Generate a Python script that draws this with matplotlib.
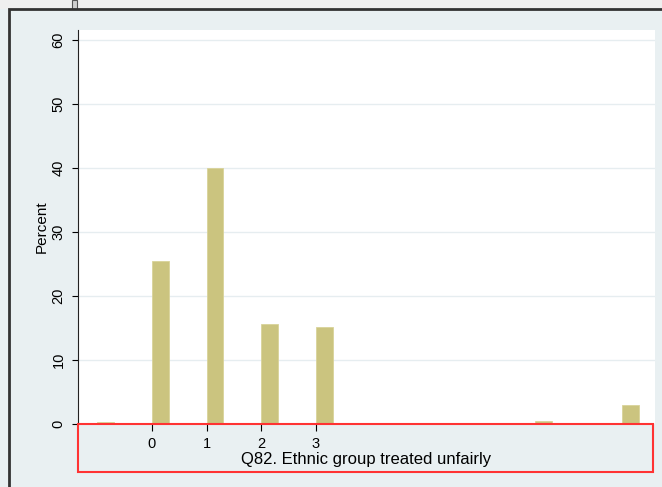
import matplotlib
matplotlib.use("Agg")
import matplotlib.pyplot as plt
from matplotlib.patches import Rectangle

# данные: значения переменной и проценты
values = [-1, 0, 1, 2, 3, 7, 8.6]
percents = [0.3, 25.5, 40.0, 15.6, 15.1, 0.5, 3.0]
x_ticks = [0, 1, 2, 3]
y_ticks = [0, 10, 20, 30, 40, 50, 60]

W, H = 662, 487
plt.rcParams['font.family'] = ['Liberation Sans', 'DejaVu Sans']

fig = plt.figure(figsize=(W / 100, H / 100), dpi=100)
fig.patch.set_facecolor('#e9f0f2')

def px(x0, y0, w, h):  # прямоугольник в пикселях (сверху вниз)
    return (x0 / W, 1 - (y0 + h) / H), w / W, h / H

# серая полоса сверху и рамка окна
xy, w, h = px(0, 0, W, 9)
fig.add_artist(Rectangle(xy, w, h, transform=fig.transFigure, color='#efefef', lw=0))
xy, w, h = px(72, 0, 5, 9)
fig.add_artist(Rectangle(xy, w, h, transform=fig.transFigure, facecolor='#d0d0d0', edgecolor='#555555', lw=0.8))
xy, w, h = px(9, 9, W, H)
fig.add_artist(Rectangle(xy, w, h, transform=fig.transFigure, fill=False, edgecolor='#333333', lw=2))

ax = fig.add_axes([78 / W, (H - 424) / H, 577 / W, 394 / H])
ax.set_facecolor('white')
ax.bar(values, percents, width=0.31, align='edge', color='#cbc47f', edgecolor='#d9d39a', linewidth=0.6, zorder=3)

ax.set_xlim(-1.35, 9.2)
ax.set_ylim(0, 61.6)
ax.set_xticks(x_ticks)
ax.set_yticks(y_ticks)
ax.tick_params(axis='y', labelrotation=90, length=4, labelsize=10.5, pad=5)
ax.tick_params(axis='x', length=5, labelsize=10.5, pad=4)
for lab in ax.get_yticklabels():
    lab.set_va('center')
ax.grid(axis='y', color='#e6edf0', linewidth=1, zorder=0)
for s in ['top', 'right', 'bottom']:
    ax.spines[s].set_visible(False)
ax.spines['left'].set_color('#222222')

ax.set_ylabel('Percent', fontsize=11, labelpad=2)
ax.set_xlabel('Q82. Ethnic group treated unfairly', fontsize=12, labelpad=1)

# красная рамка вокруг оси x
xy, w, h = px(78, 424, 575, 48)
fig.add_artist(Rectangle(xy, w, h, transform=fig.transFigure, fill=False, edgecolor='#ff3333', lw=1.5))

fig.savefig('out.png', dpi=100)
